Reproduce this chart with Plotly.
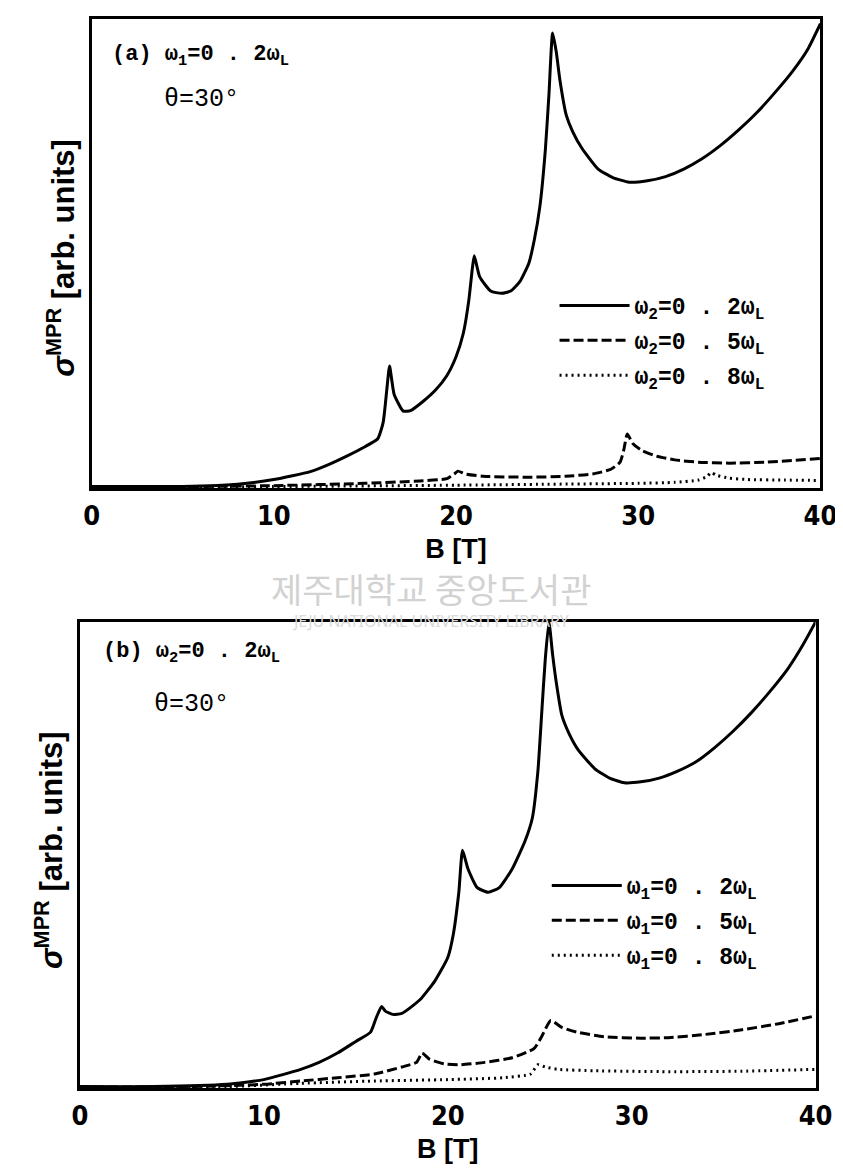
import plotly.graph_objects as go

W, H = 843, 1168

# ---------------- data (arb. units) ----------------
# Panel (a): omega1 = 0.2 omega_L, theta = 30 deg
a_solid_B = [0, 2, 4, 6, 8, 10, 12, 13, 14, 15, 15.7, 16.0, 16.2, 16.35, 16.6, 17.1, 17.5, 18.2, 18.9,
             19.5, 20.0, 20.4, 20.7, 20.9, 21.0, 21.3, 21.9, 22.5, 23.0, 23.5, 24.0, 24.3, 24.6, 24.9,
             25.1, 25.3, 25.5, 25.7, 26.05, 26.4, 26.9, 27.8, 28.6, 29.5, 30.5, 31.5, 32.5, 33.5, 34.5,
             35.5, 36.5, 37.5, 38.5, 39.3, 40.0]
a_solid_S = [0.003, 0.003, 0.003, 0.004, 0.008, 0.018, 0.035, 0.05, 0.068, 0.088, 0.105, 0.14, 0.21,
             0.26, 0.2, 0.164, 0.165, 0.185, 0.21, 0.24, 0.28, 0.33, 0.4, 0.47, 0.495, 0.45, 0.42,
             0.415, 0.42, 0.44, 0.48, 0.53, 0.6, 0.72, 0.84, 0.97, 0.93, 0.87, 0.795, 0.76, 0.725,
             0.68, 0.662, 0.652, 0.655, 0.664, 0.68, 0.702, 0.73, 0.763, 0.8, 0.843, 0.89, 0.935, 0.99]

a_dash_B = [0, 5, 10, 15, 18, 19.5, 19.9, 20.1, 20.5, 21.5, 24.0, 26.0, 27.5, 28.5, 29.0, 29.2, 29.4,
            29.7, 30.2, 31.0, 32.0, 33.3, 35.0, 37.0, 40.0]
a_dash_S = [0.002, 0.003, 0.005, 0.01, 0.015, 0.02, 0.03, 0.036, 0.03, 0.025, 0.023, 0.025, 0.03, 0.04,
            0.055, 0.08, 0.115, 0.095, 0.08, 0.068, 0.06, 0.055, 0.053, 0.055, 0.063]

a_dot_B = [0, 10, 20, 25, 30, 32, 33.3, 33.8, 34.0, 34.3, 35.0, 36.0, 38.0, 40.0]
a_dot_S = [0.001, 0.003, 0.006, 0.008, 0.01, 0.012, 0.017, 0.025, 0.033, 0.027, 0.021, 0.018, 0.017, 0.016]

# Panel (b): omega2 = 0.2 omega_L, theta = 30 deg
b_solid_B = [0, 4, 8, 10, 12, 13, 14, 15, 15.8, 16.1, 16.4, 16.6, 17.0, 17.5, 18.5, 19.3, 20.0, 20.3,
             20.6, 20.8, 21.1, 21.6, 22.2, 22.8, 23.5, 24.2, 24.6, 24.9, 25.1, 25.3, 25.5, 25.7, 25.9,
             26.2, 26.6, 27.1, 28.0, 28.8, 29.6, 30.5, 31.5, 32.5, 33.5, 34.5, 35.5, 36.5, 37.5, 38.5,
             39.3, 40.0]
b_solid_S = [0.003, 0.003, 0.008, 0.018, 0.04, 0.055, 0.075, 0.1, 0.12, 0.15, 0.175, 0.165, 0.158,
             0.16, 0.19, 0.23, 0.28, 0.33, 0.42, 0.51, 0.47, 0.43, 0.42, 0.43, 0.47, 0.53, 0.58, 0.68,
             0.8, 0.92, 1.0, 0.93, 0.87, 0.8, 0.76, 0.725, 0.685, 0.665, 0.655, 0.657, 0.665, 0.68,
             0.7, 0.73, 0.765, 0.805, 0.85, 0.9, 0.95, 1.0]

b_dash_B = [0, 6, 10, 12, 14, 16, 17.5, 18.3, 18.6, 19.0, 19.8, 20.7, 22.0, 23.5, 24.7, 25.1, 25.6,
            26.2, 27.0, 28.5, 30.5, 32.0, 34.0, 36.0, 38.0, 40.0]
b_dash_S = [0.002, 0.003, 0.008, 0.015, 0.022, 0.03, 0.045, 0.055, 0.075, 0.062, 0.052, 0.05, 0.055,
            0.065, 0.085, 0.11, 0.145, 0.13, 0.12, 0.11, 0.107, 0.108, 0.115, 0.125, 0.138, 0.155]

b_dot_B = [0, 8, 12, 16, 20, 23, 24.5, 24.9, 25.3, 26.0, 28.0, 32.0, 36.0, 40.0]
b_dot_S = [0.001, 0.003, 0.01, 0.015, 0.018, 0.022, 0.03, 0.05, 0.045, 0.04, 0.037, 0.035, 0.036, 0.04]

x_ticks = [0, 10, 20, 30, 40]
x_ticktext = ["0", "10", "20", "30", "40"]

a_names = ["ω<sub>2</sub>=0 . 2ω<sub>L</sub>", "ω<sub>2</sub>=0 . 5ω<sub>L</sub>", "ω<sub>2</sub>=0 . 8ω<sub>L</sub>"]
b_names = ["ω<sub>1</sub>=0 . 2ω<sub>L</sub>", "ω<sub>1</sub>=0 . 5ω<sub>L</sub>", "ω<sub>1</sub>=0 . 8ω<sub>L</sub>"]

# ---------------- figure ----------------
def px(x):
    return x / W

def py(y):
    return 1 - y / H

LW = 3
styles = [dict(color="black", width=LW, dash="solid"),
          dict(color="black", width=LW, dash="10px,4px"),
          dict(color="black", width=3, dash="2px,4px")]

fig = go.Figure()
for i, (B, S) in enumerate([(a_solid_B, a_solid_S), (a_dash_B, a_dash_S), (a_dot_B, a_dot_S)]):
    fig.add_trace(go.Scatter(x=B, y=S, mode="lines", line=styles[i], name=a_names[i],
                             xaxis="x", yaxis="y", legend="legend", legendgroup=f"a{i}",
                             line_shape="spline", line_smoothing=0.5))
for i, (B, S) in enumerate([(b_solid_B, b_solid_S), (b_dash_B, b_dash_S), (b_dot_B, b_dot_S)]):
    fig.add_trace(go.Scatter(x=B, y=S, mode="lines", line=styles[i], name=b_names[i],
                             xaxis="x2", yaxis="y2", legend="legend2", legendgroup=f"b{i}",
                             line_shape="spline", line_smoothing=0.5))

tickfont = dict(family="Liberation Sans Narrow, DejaVu Sans Condensed, Liberation Sans", size=27,
                color="black", weight="bold")
axis_common = dict(range=[0, 40], tickvals=x_ticks, ticktext=x_ticktext, showline=True, mirror=True,
                   linecolor="black", linewidth=3, showgrid=False, zeroline=False, ticks="",
                   tickfont=tickfont, ticklabelstandoff=2,
                   title=dict(text="<b>B [T]</b>", font=dict(family="Liberation Sans", size=27, color="black"),
                              standoff=9))
yaxis_common = dict(range=[0, 1.0], showline=True, mirror=True, linecolor="black", linewidth=3,
                    showgrid=False, zeroline=False, showticklabels=False, ticks="")

legfont = dict(family="Liberation Mono", size=23, color="black", weight="bold")
fig.update_layout(
    width=W, height=H, margin=dict(l=0, r=0, t=0, b=0),
    paper_bgcolor="white", plot_bgcolor="white",
    xaxis=dict(domain=[px(78), px(829)], anchor="y", **axis_common),
    yaxis=dict(domain=[py(480), py(11)], anchor="x", **yaxis_common),
    xaxis2=dict(domain=[px(66), px(824)], anchor="y2", **axis_common),
    yaxis2=dict(domain=[py(1080), py(614)], anchor="x2", **yaxis_common),
    legend=dict(x=px(555), y=py(276), xanchor="left", yanchor="top", bgcolor="rgba(0,0,0,0)",
                font=legfont, tracegroupgap=2, itemwidth=70),
    legend2=dict(x=px(547), y=py(856), xanchor="left", yanchor="top", bgcolor="rgba(0,0,0,0)",
                 font=legfont, tracegroupgap=2, itemwidth=70),
    showlegend=True,
)

ann_font = dict(family="Liberation Mono", size=22, color="black")
annotations = [
    dict(text="<b>(a) ω<sub>1</sub>=0 . 2ω<sub>L</sub></b>", x=px(97), y=py(48)),
    dict(text="θ=30°", x=px(150), y=py(92)),
    dict(text="<b>(b) ω<sub>2</sub>=0 . 2ω<sub>L</sub></b>", x=px(88), y=py(645)),
    dict(text="θ=30°", x=px(140), y=py(696)),
]
for a in annotations:
    f = dict(ann_font)
    if a["text"].startswith("θ"):
        f["size"] = 25
    fig.add_annotation(xref="paper", yref="paper", xanchor="left", yanchor="middle", showarrow=False,
                       font=f, **a)

ytitle = "<b><i>σ</i><sup>MPR</sup> [arb. units]</b>"
for xc, yc in [(46, 250), (34, 842)]:
    fig.add_annotation(xref="paper", yref="paper", x=px(xc), y=py(yc), text=ytitle, textangle=-90,
                       showarrow=False, xanchor="center", yanchor="middle",
                       font=dict(family="Liberation Sans", size=31, color="black"))

# faint library watermark
fig.add_annotation(xref="paper", yref="paper", x=px(428), y=py(580), text="제주대학교 중앙도서관",
                   showarrow=False, font=dict(family="Noto Sans CJK KR", size=34, color="#d2d2d2"))
fig.add_annotation(xref="paper", yref="paper", x=px(428), y=py(613), text="JEJU NATIONAL UNIVERSITY LIBRARY",
                   showarrow=False, font=dict(family="Noto Sans", size=16, color="#dadada"))

fig.write_html("out.html")
